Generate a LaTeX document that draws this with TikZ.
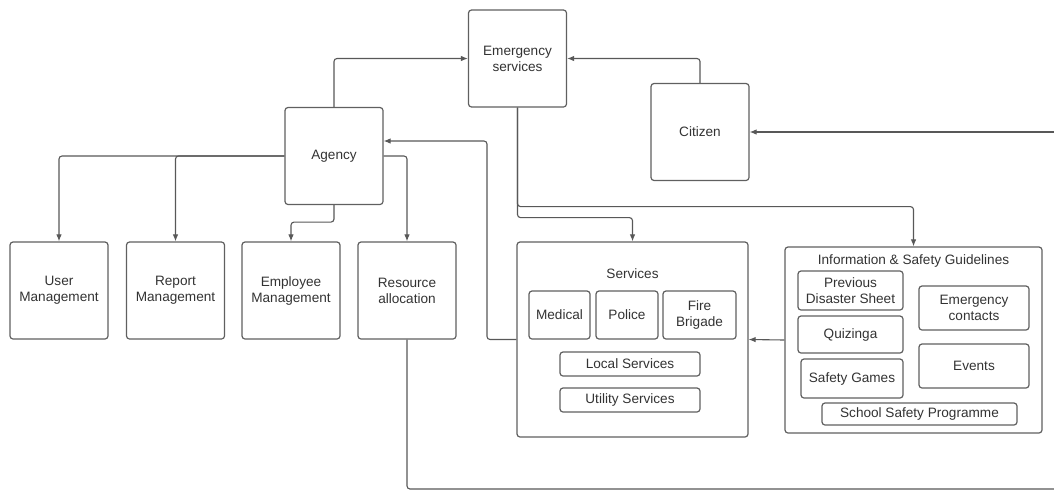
\documentclass[tikz,border=0pt]{standalone}
\usepackage{fontspec}
\setmainfont{Liberation Sans}
\usetikzlibrary{arrows.meta,calc}
\definecolor{boxline}{HTML}{606060}
\definecolor{conline}{HTML}{585858}
\definecolor{txt}{HTML}{333333}
\begin{document}
\begin{tikzpicture}[x=1pt,y=-1pt,
  every node/.style={text=txt,font=\fontsize{13.6}{16}\selectfont,align=center,inner sep=0pt},
  bx/.style={draw=boxline,line width=1.2pt,rounded corners=3pt,minimum width=#1},
  sq/.style={bx=98pt,minimum height=97pt},
  conn/.style={draw=conline,line width=1.1pt,rounded corners=3pt},
  arr/.style={conn,-{Latex[length=7pt,width=5.5pt]}}]
\useasboundingbox[fill=white] (0,0) rectangle (1054,491);
% main squares
\node[sq] (es) at (517.5,58.5) {Emergency\\services};
\node[sq] (ag) at (334,156) {Agency};
\node[sq] (cit) at (700,132) {Citizen};
\node[sq] (um) at (59,290.5) {User\\Management};
\node[sq] (rm) at (175.5,290.5) {Report\\Management};
\node[sq] (em) at (291,290.5) {Employee\\Management};
\node[sq] (ra) at (407,290.5) {Resource\\allocation};
% services container
\node[bx=231pt,minimum height=195pt] (svc) at (632.5,339.5) {};
\node (svct) at (632.5,274) {Services};
\node[bx=61pt,minimum height=48pt] (med) at (559.5,315) {Medical};
\node[bx=62pt,minimum height=48pt] (pol) at (627,315) {Police};
\node[bx=73pt,minimum height=48pt] (fire) at (699.5,315) {Fire\\Brigade};
\node[bx=140pt,minimum height=24pt] (loc) at (630,364) {Local Services};
\node[bx=140pt,minimum height=24pt] (util) at (630,400) {Utility Services};
% information container
\node[bx=257pt,minimum height=186pt] (info) at (913.5,340) {};
\node (infot) at (913.5,261) {Information \& Safety Guidelines};
\node[bx=105pt,minimum height=39pt] (pds) at (850.5,290.5) {Previous\\Disaster Sheet};
\node[bx=105pt,minimum height=37pt] (quiz) at (850.5,334.5) {Quizinga};
\node[bx=102pt,minimum height=39pt] (sg) at (852,378.5) {Safety Games};
\node[bx=110pt,minimum height=44pt] (ec) at (974,308) {Emergency\\contacts};
\node[bx=110pt,minimum height=44pt] (ev) at (974,366) {Events};
\node[bx=195pt,minimum height=22pt] (ssp) at (919.5,414) {School Safety Programme};
% edge coordinates
\coordinate (edgeT) at (1054,132);
\coordinate (edgeB) at (1054,489);
% connectors
\draw[arr] (ag.north) |- (es.west);
\draw[arr] (cit.north) |- (es.east);
\draw[arr] (edgeT) -- (cit.east);
\draw[arr] (ag.west) -| (um.north);
\draw[arr] (ag.west) -| (rm.north);
\draw[arr] (ag.south) -- ++(0,17) -| (em.north);
\draw[arr] (ag.east) -| (ra.north);
\draw[arr] (svc.west) -| (487,141) -- ([yshift=15pt]ag.east);
\draw[arr] (es.south) -- ++(0,99) -| (info.north);
\draw[arr] (es.south) -- ++(0,110) -| (svc.north);
\draw[arr] (info.west) -- (svc.east);
\draw[conn] (ra.south) |- (edgeB);
\end{tikzpicture}
\end{document}
